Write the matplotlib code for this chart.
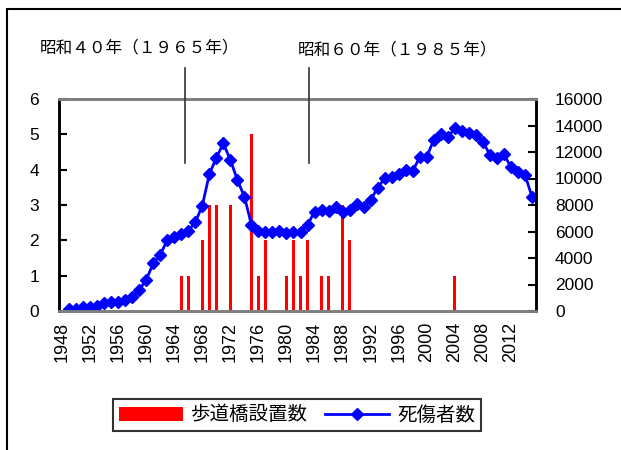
import matplotlib
matplotlib.use("Agg")
import matplotlib.pyplot as plt
from matplotlib.lines import Line2D
from matplotlib.patches import Rectangle

plt.rcParams['font.family'] = ['Liberation Sans', 'Noto Sans CJK JP', 'DejaVu Sans']

# 歩道橋設置数
bar_years = [1965, 1966, 1968, 1969, 1970, 1972, 1975, 1976, 1977,
             1980, 1981, 1982, 1983, 1985, 1986, 1988, 1989, 2004]
bar_counts = [1, 1, 2, 3, 3, 3, 5, 1, 2,
              1, 2, 1, 2, 1, 1, 3, 2, 1]

# 死傷者数 (1949-2015)
line_years = list(range(1949, 2016))
casualties = [130, 180, 330, 330, 380, 580, 680, 680, 830, 1030,
              1590, 2340, 3600, 4230, 5360, 5560, 5810, 6040, 6690, 7950,
              10320, 11570, 12650, 11400, 9890, 8630, 6520, 6040, 5990, 5990,
              6040, 5910, 5940, 5960, 6490, 7500, 7620, 7570, 7880, 7500,
              7620, 8050, 7880, 8380, 9310, 10010, 10140, 10340, 10640, 10590,
              11600, 11650, 12910, 13330, 13110, 13790, 13610, 13460, 13280, 12780,
              11780, 11520, 11830, 10840, 10520, 10270, 8630]

year_ticks = list(range(1948, 2013, 4))

fig = plt.figure(figsize=(6.21, 4.5), dpi=100)
ax = fig.add_axes([58.5 / 621, 139 / 450, 477 / 621, 212 / 450])
ax2 = ax.twinx()

ax.bar(bar_years, bar_counts, width=0.4, color='#FF0000', label='歩道橋設置数')
ax2.plot(line_years, casualties, color='#0000FF', lw=2, marker='D', markersize=6,
         label='死傷者数')

ax.set_xlim(1947.5, 2015.5)
ax.set_ylim(0, 6)
ax2.set_ylim(0, 16000)
ax.set_yticks(range(0, 7))
ax2.set_yticks(range(0, 16001, 2000))
ax.set_xticks(year_ticks)
ax.set_xticklabels([str(y) for y in year_ticks], rotation=90, fontsize=13)
ax.tick_params(axis='x', length=0, pad=8)
ax.tick_params(axis='y', direction='in', length=6, width=1.5, labelsize=12.5, pad=14)
ax2.tick_params(axis='y', direction='in', length=6, width=1.5, labelsize=12.5, pad=14)

for a in (ax, ax2):
    a.spines['top'].set_color('#808080')
    a.spines['bottom'].set_color('#808080')
    a.spines['top'].set_linewidth(2)
    a.spines['bottom'].set_linewidth(2)
    a.spines['left'].set_linewidth(1.8)
    a.spines['right'].set_linewidth(1.8)

# annotations
fig.text(40 / 621, 1 - 48 / 450, '昭和４０年（１９６５年）', fontsize=12,
         family='Noto Sans CJK JP', va='center', ha='left')
fig.text(298 / 621, 1 - 50 / 450, '昭和６０年（１９８５年）', fontsize=12,
         family='Noto Sans CJK JP', va='center', ha='left')
for xp in (185, 309):
    fig.add_artist(Line2D([xp / 621, xp / 621], [1 - 68 / 450, 1 - 163 / 450],
                          color='#333333', lw=1.2))

# outer frame
fig.add_artist(Rectangle((7 / 621, -0.1), 1.2, 1 - 9 / 450 + 0.1, fill=False,
                         edgecolor='black', lw=1.5, transform=fig.transFigure))

h1, l1 = ax.get_legend_handles_labels()
h2, l2 = ax2.get_legend_handles_labels()
leg = fig.legend(h1 + h2, l1 + l2, loc='center', bbox_to_anchor=(297 / 621, 1 - 415 / 450),
                 ncol=2, frameon=True, fancybox=False, edgecolor='black',
                 handlelength=3.3, handleheight=0.7, columnspacing=0.9,
                 handletextpad=0.4, borderpad=0.3,
                 prop={'family': ['Noto Sans CJK JP'], 'size': 14})
leg.get_frame().set_linewidth(1.5)

fig.savefig('out.png', dpi=100)
